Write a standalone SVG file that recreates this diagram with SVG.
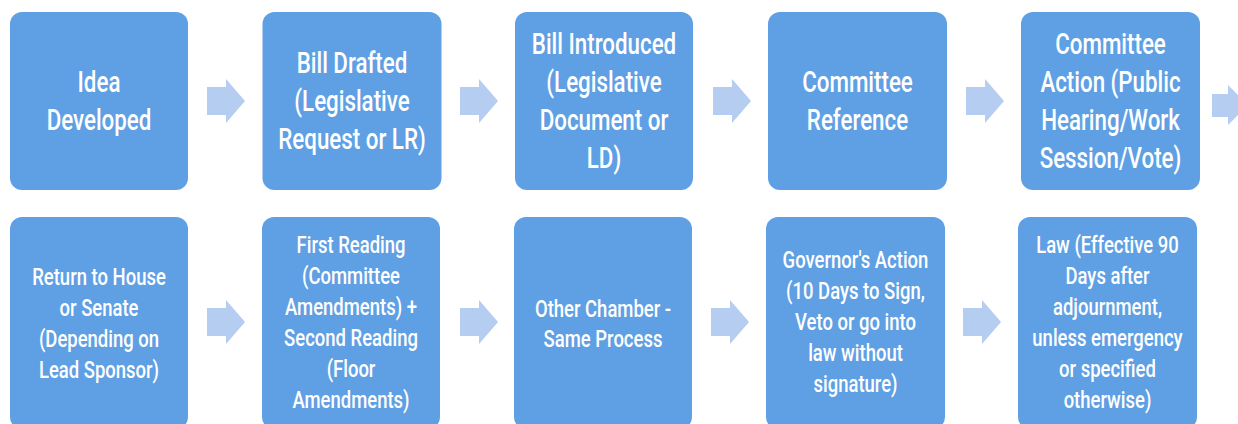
<svg xmlns="http://www.w3.org/2000/svg" width="1238" height="424" viewBox="0 0 1238 424">
<defs>
<style>
.box{fill:#5f9fe4;}
.arr{fill:#b5cdf1;}
.t{font-family:Roboto,"Liberation Sans",sans-serif;font-weight:500;fill:#ffffff;text-anchor:middle;}
.top{font-size:29px;}
.bot{font-size:24px;}
</style>
<path id="ah" d="M0,-14 H19 V-22 L38,0 L19,22 V14 H0 Z"/>
</defs>
<rect width="1238" height="424" fill="#ffffff"/>
<g id="connectors" class="arr">
<use href="#ah" x="207" y="101"/>
<use href="#ah" x="460" y="101"/>
<use href="#ah" x="713" y="101"/>
<use href="#ah" x="966" y="101"/>
<path d="M1212,94 H1228 V85 L1248,105 L1228,125 V117 H1212 Z"/>
<use href="#ah" x="207" y="322"/>
<use href="#ah" x="460" y="322"/>
<use href="#ah" x="711" y="322"/>
<use href="#ah" x="963" y="322"/>
</g>
<g id="n1"><rect class="box" x="10" y="12" width="178" height="178" rx="12"/>
<text class="t top" transform="translate(99,0) scale(0.77,1)"><tspan x="0" y="92">Idea</tspan><tspan x="0" y="130">Developed</tspan></text></g>
<g id="n2"><rect class="box" x="262.5" y="12" width="179" height="178" rx="12"/>
<text class="t top" transform="translate(352,0) scale(0.77,1)"><tspan x="0" y="73">Bill Drafted</tspan><tspan x="0" y="111">(Legislative</tspan><tspan x="0" y="149">Request or LR)</tspan></text></g>
<g id="n3"><rect class="box" x="515" y="12" width="178" height="178" rx="12"/>
<text class="t top" transform="translate(604,0) scale(0.77,1)"><tspan x="0" y="54">Bill Introduced</tspan><tspan x="0" y="92">(Legislative</tspan><tspan x="0" y="130">Document or</tspan><tspan x="0" y="168">LD)</tspan></text></g>
<g id="n4"><rect class="box" x="768" y="12" width="179" height="178" rx="12"/>
<text class="t top" transform="translate(857.5,0) scale(0.77,1)"><tspan x="0" y="92">Committee</tspan><tspan x="0" y="130">Reference</tspan></text></g>
<g id="n5"><rect class="box" x="1021" y="12" width="179" height="178" rx="12"/>
<text class="t top" transform="translate(1110.5,0) scale(0.77,1)"><tspan x="0" y="54">Committee</tspan><tspan x="0" y="92">Action (Public</tspan><tspan x="0" y="130">Hearing/Work</tspan><tspan x="0" y="168">Session/Vote)</tspan></text></g>
<g id="n6"><rect class="box" x="10" y="217" width="178" height="212" rx="12"/>
<text class="t bot" transform="translate(99,0) scale(0.77,1)"><tspan x="0" y="285">Return to House</tspan><tspan x="0" y="316">or Senate</tspan><tspan x="0" y="347">(Depending on</tspan><tspan x="0" y="378">Lead Sponsor)</tspan></text></g>
<g id="n7"><rect class="box" x="262" y="217" width="178" height="212" rx="12"/>
<text class="t bot" transform="translate(351,0) scale(0.77,1)"><tspan x="0" y="253">First Reading</tspan><tspan x="0" y="284">(Committee</tspan><tspan x="0" y="315">Amendments) +</tspan><tspan x="0" y="346">Second Reading</tspan><tspan x="0" y="377">(Floor</tspan><tspan x="0" y="408">Amendments)</tspan></text></g>
<g id="n8"><rect class="box" x="514" y="217" width="178" height="212" rx="12"/>
<text class="t bot" transform="translate(603,0) scale(0.77,1)"><tspan x="0" y="317">Other Chamber -</tspan><tspan x="0" y="347">Same Process</tspan></text></g>
<g id="n9"><rect class="box" x="766" y="217" width="179" height="212" rx="12"/>
<text class="t bot" transform="translate(855.5,0) scale(0.77,1)"><tspan x="0" y="268">Governor's Action</tspan><tspan x="0" y="299">(10 Days to Sign,</tspan><tspan x="0" y="330">Veto or go into</tspan><tspan x="0" y="361">law without</tspan><tspan x="0" y="392">signature)</tspan></text></g>
<g id="n10"><rect class="box" x="1018" y="217" width="179" height="212" rx="12"/>
<text class="t bot" transform="translate(1107.5,0) scale(0.77,1)"><tspan x="0" y="253">Law (Effective 90</tspan><tspan x="0" y="284">Days after</tspan><tspan x="0" y="315">adjournment,</tspan><tspan x="0" y="346">unless emergency</tspan><tspan x="0" y="377">or specified</tspan><tspan x="0" y="408">otherwise)</tspan></text></g>
</svg>
